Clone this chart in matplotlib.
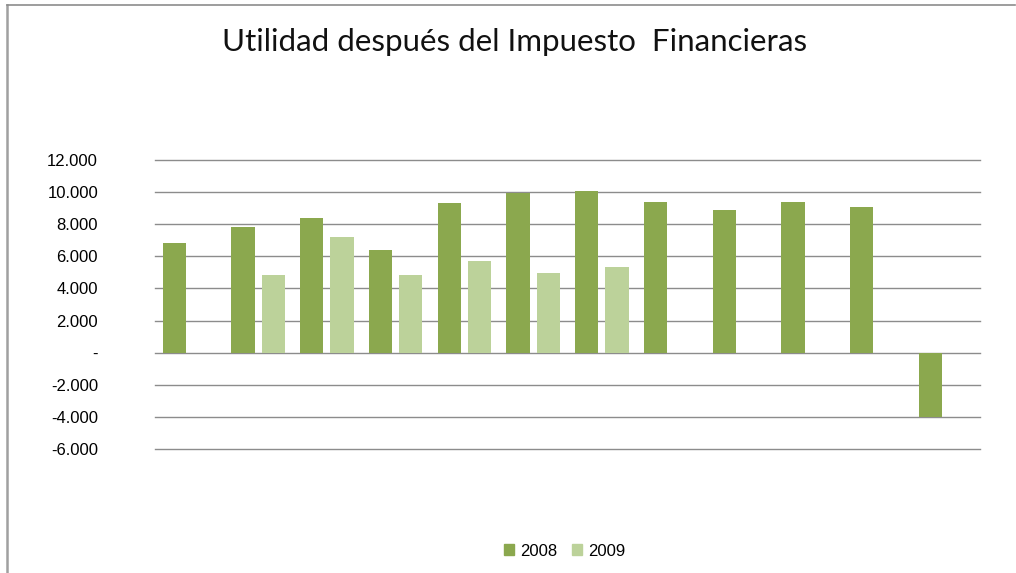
import matplotlib
matplotlib.use('Agg')
import matplotlib.pyplot as plt
from matplotlib.lines import Line2D
from matplotlib.ticker import FuncFormatter
import numpy as np

C08 = '#8BA84E'; C09 = '#BCD29A'; GRID = '#8C8C8C'

categories = ['1', '2', '3', '4', '5', '6', '7', '8', '9', '10', '11', '12']
util_2008 = [6850, 7850, 8400, 6400, 9350, 9950, 10070, 9400, 8900, 9400, 9050, -4000]
util_2009 = [0, 4850, 7220, 4850, 5720, 4980, 5350, 0, 0, 0, 0, 0]
yticks = [-6000, -4000, -2000, 0, 2000, 4000, 6000, 8000, 10000, 12000]

fig = plt.figure(figsize=(10.16, 5.73), dpi=100)
ax = fig.add_axes([155/1016, 1-449/573, 825/1016, (449-160)/573])

x = np.arange(len(categories))
w = 0.335
ax.bar(x - 0.22, util_2008, w, color=C08, zorder=3, label='2008')
ax.bar(x + 0.22, util_2009, w, color=C09, zorder=3, label='2009')

ax.set_xlim(-0.5, len(categories) - 0.5)
ax.set_ylim(-6000, 12000)
ax.set_yticks(yticks)

def fmt(v, pos):
    if v == 0:
        return '-'
    return f'{v:,.0f}'.replace(',', '.')
ax.yaxis.set_major_formatter(FuncFormatter(fmt))
ax.set_xticks([])
ax.tick_params(axis='y', length=0, pad=41, labelsize=12)
for lab in ax.get_yticklabels():
    lab.set_family('Liberation Sans')
ax.grid(axis='y', color=GRID, lw=1, zorder=0)
for gl in ax.get_ygridlines():
    gl.set_clip_on(False)
for s in ax.spines.values():
    s.set_visible(False)

fig.text(515/1016, 1-42/573, 'Utilidad después del Impuesto  Financieras',
         ha='center', va='center', fontsize=22.5, family='Lato', color='#111111')

handles = [plt.Rectangle((0, 0), 1, 1, color=C08), plt.Rectangle((0, 0), 1, 1, color=C09)]
fig.legend(handles, ['2008', '2009'], loc='center', bbox_to_anchor=(565/1016, 1-551/573),
           ncol=2, frameon=False, handlelength=0.6, handleheight=0.6, handletextpad=0.35,
           columnspacing=0.9, prop={'family': 'Liberation Sans', 'size': 12})

# chart frame (only top and left edges visible)
fig.add_artist(Line2D([7/1016, 7/1016], [0, 1-5/573], color='#A0A0A0', lw=1.8, transform=fig.transFigure))
fig.add_artist(Line2D([7/1016, 1015/1016], [1-5/573, 1-5/573], color='#8C8C8C', lw=1.2, transform=fig.transFigure))

fig.savefig('out.png', dpi=100)
